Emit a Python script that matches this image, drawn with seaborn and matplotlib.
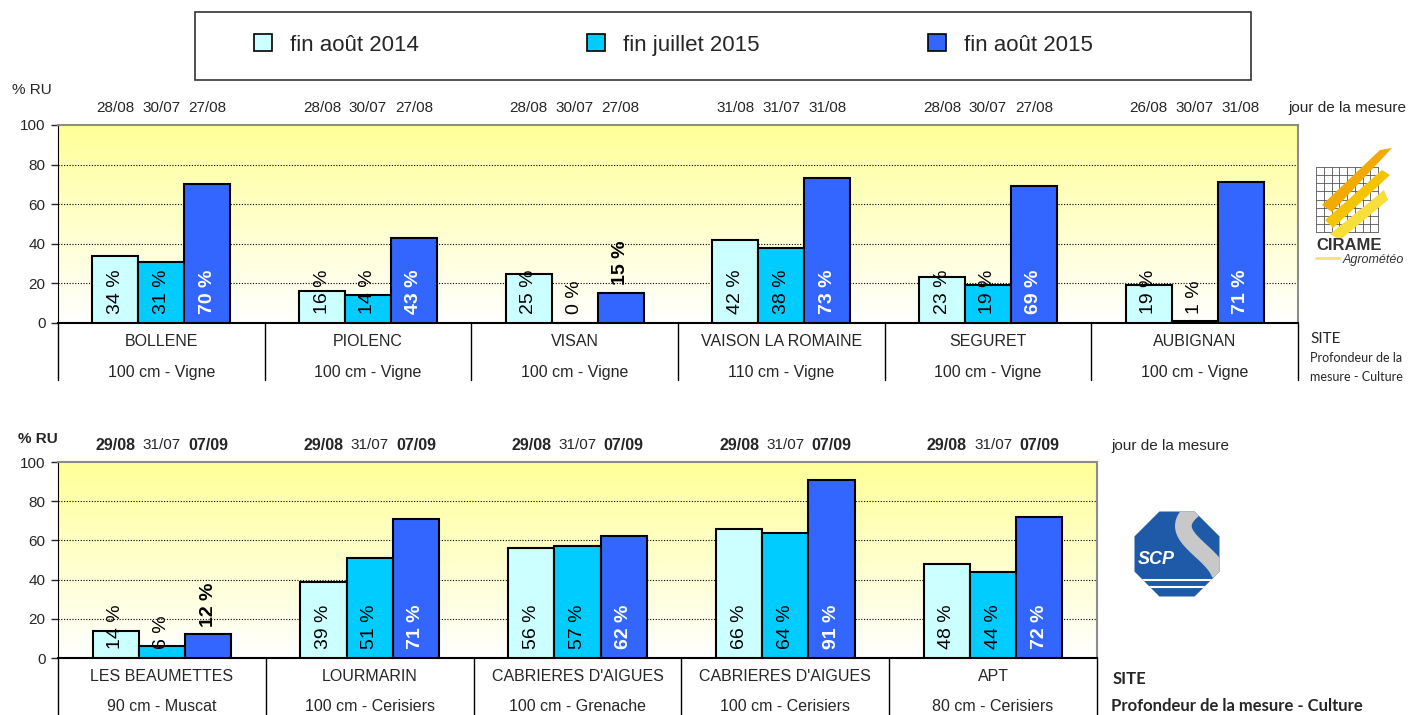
import numpy as np
import pandas as pd
import matplotlib
matplotlib.use("Agg")
import matplotlib.pyplot as plt
import seaborn as sns
from matplotlib.colors import LinearSegmentedColormap
from matplotlib.patches import Patch, Rectangle, RegularPolygon, Polygon

# ========= DONNEES =========
series = ["fin août 2014", "fin juillet 2015", "fin août 2015"]
couleurs = ["#CCFFFF", "#00CCFF", "#3366FF"]

# panneau du haut (CIRAME)
sites_haut = ["BOLLENE", "PIOLENC", "VISAN", "VAISON LA ROMAINE", "SEGURET", "AUBIGNAN"]
cultures_haut = ["100 cm - Vigne", "100 cm - Vigne", "100 cm - Vigne",
                 "110 cm - Vigne", "100 cm - Vigne", "100 cm - Vigne"]
ru_haut_aout14 = [34, 16, 25, 42, 23, 19]
ru_haut_juil15 = [31, 14, 0, 38, 19, 1]
ru_haut_aout15 = [70, 43, 15, 73, 69, 71]
dates_haut = [["28/08", "30/07", "27/08"], ["28/08", "30/07", "27/08"],
              ["28/08", "30/07", "27/08"], ["31/08", "31/07", "31/08"],
              ["28/08", "30/07", "27/08"], ["26/08", "30/07", "31/08"]]

# panneau du bas (SCP)
sites_bas = ["LES BEAUMETTES", "LOURMARIN", "CABRIERES D'AIGUES", "CABRIERES D'AIGUES", "APT"]
cultures_bas = ["90 cm - Muscat", "100 cm - Cerisiers", "100 cm - Grenache",
                "100 cm - Cerisiers", "80 cm - Cerisiers"]
ru_bas_aout14 = [14, 39, 56, 66, 48]
ru_bas_juil15 = [6, 51, 57, 64, 44]
ru_bas_aout15 = [12, 71, 62, 91, 72]
dates_bas = [["29/08", "31/07", "07/09"], ["29/08", "31/07", "07/09"],
             ["29/08", "31/07", "07/09"], ["29/08", "31/07", "07/09"],
             ["29/08", "31/07", "07/09"]]

sns.set_style("white")
plt.rcParams["font.family"] = ["Liberation Sans", "DejaVu Sans"]

fond = LinearSegmentedColormap.from_list("fond", ["#FFFFFF", "#FFFF99"])


def panneau(ax, sites, cultures, v1, v2, v3, dates, dates_gras, bas_table):
    n = len(sites)
    cles = [str(i) for i in range(n)]
    df = pd.DataFrame({
        "cle": cles * 3,
        "serie": [series[0]] * n + [series[1]] * n + [series[2]] * n,
        "ru": list(v1) + list(v2) + list(v3),
    })
    sns.barplot(data=df, x="cle", y="ru", hue="serie", order=cles, hue_order=series,
                palette=couleurs, saturation=1, width=0.667, edgecolor="black",
                linewidth=1.5, legend=False, errorbar=None, ax=ax, zorder=3)

    # fond degrade jaune -> blanc
    grad = np.linspace(0, 1, 256).reshape(-1, 1)
    ax.imshow(grad, extent=(-0.5, n - 0.5, 0, 100), aspect="auto", cmap=fond,
              origin="lower", zorder=0)
    ax.set_xlim(-0.5, n - 0.5)
    ax.set_ylim(0, 100)

    for y in [20, 40, 60, 80]:
        ax.axhline(y, color="black", lw=0.8, ls=(0, (1, 1.5)), zorder=1)

    ax.set_yticks(range(0, 101, 20))
    ax.tick_params(axis="y", length=5, width=1, labelsize=11, direction="out", left=True, pad=4)
    ax.set_xticks([])
    ax.set_xlabel("")
    ax.set_ylabel("")
    for s in ["top", "right"]:
        ax.spines[s].set_color("#8C8C8C")
        ax.spines[s].set_linewidth(1.5)
    ax.spines["left"].set_color("black")
    ax.spines["bottom"].set_color("black")
    ax.spines["bottom"].set_linewidth(1.5)

    # etiquettes des barres
    valeurs = [v1, v2, v3]
    for k, cont in enumerate(ax.containers):
        for i, bar in enumerate(cont):
            xc = bar.get_x() + bar.get_width() / 2
            v = valeurs[k][i]
            if k < 2:
                ax.text(xc, 4.5, f"{v} %", rotation=90, ha="center", va="bottom",
                        fontsize=14, color="black", zorder=5)
            elif v >= 30:
                ax.text(xc, 4.5, f"{v} %", rotation=90, ha="center", va="bottom",
                        fontsize=14, color="white", fontweight="bold", zorder=5)
            else:
                ax.text(xc, v + 4, f"{v} %", rotation=90, ha="center", va="bottom",
                        fontsize=14, color="black", fontweight="bold", zorder=5)
            # jour de la mesure
            ax.text(xc, 1.085, dates[i][k], transform=ax.get_xaxis_transform(),
                    ha="center", va="center",
                    fontsize=11.5 if dates_gras[k] else 11,
                    fontweight="bold" if dates_gras[k] else "normal")

    # tableau sous l'axe
    xt = ax.get_xaxis_transform()
    for b in np.arange(-0.5, n, 1):
        ax.plot([b, b], [0, -bas_table], transform=xt, color="black", lw=1, clip_on=False)
    for i in range(n):
        ax.text(i, -0.095, sites[i], transform=xt, ha="center", va="center", fontsize=11.5)
        ax.text(i, -0.248, cultures[i], transform=xt, ha="center", va="center", fontsize=11.5)


fig = plt.figure(figsize=(14.16, 7.15), dpi=100)

ax_haut = fig.add_axes([58 / 1416, 1 - 323 / 715, (1298 - 58) / 1416, 198 / 715])
panneau(ax_haut, sites_haut, cultures_haut, ru_haut_aout14, ru_haut_juil15, ru_haut_aout15,
        dates_haut, [False, False, False], 0.29)

ax_bas = fig.add_axes([58 / 1416, 1 - 658 / 715, (1097 - 58) / 1416, 196 / 715])
panneau(ax_bas, sites_bas, cultures_bas, ru_bas_aout14, ru_bas_juil15, ru_bas_aout15,
        dates_bas, [True, False, True], 0.29)

# ========= LEGENDE =========
poignees = [Patch(facecolor=c, edgecolor="black", lw=1.2, label=s) for s, c in zip(series, couleurs)]
fig.legend(handles=poignees, loc="center left", bbox_to_anchor=(254 / 1416, 1 - 45 / 715),
           ncol=3, frameon=False, fontsize=16, handlelength=0.8, handleheight=0.8,
           handletextpad=0.8, columnspacing=7.6, borderpad=0, borderaxespad=0)
fig.add_artist(Rectangle((195 / 1416, 1 - 80 / 715), (1251 - 195) / 1416, 68 / 715,
                         transform=fig.transFigure, fill=False, ec="#333333", lw=1.2))

# ========= TEXTES ET LOGOS (coordonnees pixels) =========
ov = fig.add_axes([0, 0, 1, 1], zorder=10)
ov.set_xlim(0, 1416)
ov.set_ylim(715, 0)
ov.axis("off")
ov.patch.set_visible(False)

cal = ["Lato", "DejaVu Sans"]
ov.text(12, 90, "% RU", fontsize=11, va="center")
ov.text(18, 439, "% RU", fontsize=11, va="center", fontweight="bold")
ov.text(1288, 108, "jour de la mesure", fontsize=11, va="center")
ov.text(1111, 446, "jour de la mesure", fontsize=11, va="center")
ov.text(1310, 339, "SITE", fontsize=11, va="center", family=cal)
ov.text(1310, 358, "Profondeur de la", fontsize=9, va="center", family=cal)
ov.text(1310, 377, "mesure - Culture", fontsize=9, va="center", family=cal)
ov.text(1113, 679, "SITE", fontsize=12, va="center", family=cal, fontweight="bold")
ov.text(1111, 706, "Profondeur de la mesure - Culture", fontsize=12, va="center",
        family=cal, fontweight="bold")

# logo CIRAME
for gx in np.linspace(1316, 1378, 9):
    ov.plot([gx, gx], [167, 232], color="#555555", lw=0.6)
for gy in np.linspace(167, 232, 9):
    ov.plot([1316, 1378], [gy, gy], color="#555555", lw=0.6)
ov.add_patch(Polygon([(1322, 205), (1380, 150), (1392, 148), (1332, 212)], closed=True,
                     fc="#F2A900", ec="none", zorder=3))
ov.add_patch(Polygon([(1325, 220), (1382, 170), (1390, 175), (1333, 228)], closed=True,
                     fc="#F5C400", ec="none", zorder=3))
ov.add_patch(Polygon([(1330, 234), (1384, 190), (1388, 200), (1340, 240)], closed=True,
                     fc="#F7DE3A", ec="none", zorder=3))
ov.text(1316, 245, "CIRAME", fontsize=12, fontweight="bold", color="#333333", va="center")
ov.plot([1316, 1340], [258, 258], color="#F5E27A", lw=2)
ov.text(1343, 260, "Agrométéo", fontsize=9, style="italic", color="#333333", va="center")

# logo SCP
octo = RegularPolygon((1177, 554), numVertices=8, radius=46, orientation=np.pi / 8,
                      fc="#1F5AA8", ec="none")
ov.add_patch(octo)
t = np.linspace(0, 1, 60)
courbe, = ov.plot(1200 - 40 * np.sin(np.pi * t) * (1 - t) + 20 * t, 505 + 70 * t,
                  color="#C8C8C8", lw=12, solid_capstyle="butt")
courbe.set_clip_path(octo)
for yy in [580, 587]:
    ligne, = ov.plot([1130, 1225], [yy, yy], color="white", lw=1.5)
    ligne.set_clip_path(octo)
ov.text(1156, 560, "SCP", fontsize=13, fontweight="bold", style="italic", color="white",
        ha="center", va="center")

fig.savefig("out.png", dpi=100)
